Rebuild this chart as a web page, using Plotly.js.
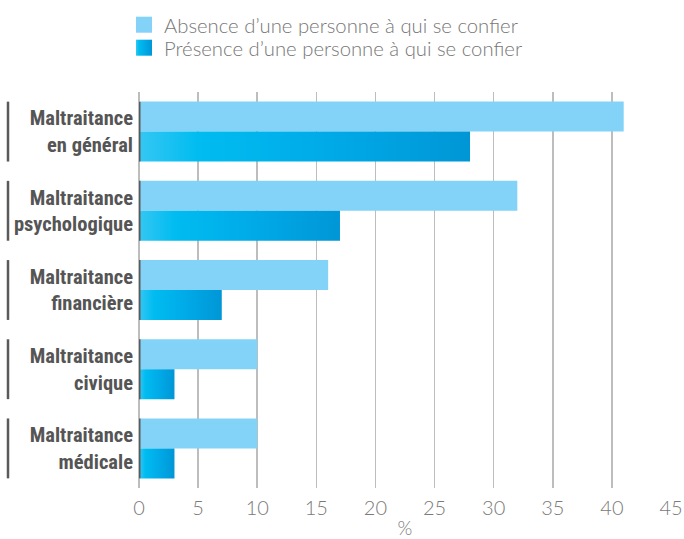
<!DOCTYPE html>
<html>
<head>
<meta charset="utf-8">
<script src="https://cdn.plot.ly/plotly-3.0.1.min.js"></script>
<style>
html,body{margin:0;padding:0;background:#fff;}
#chart{width:684px;height:539px;}
</style>
</head>
<body>
<div id="chart"></div>
<script>
// ---- data ----
var categories = [
  "Maltraitance<br>en général",
  "Maltraitance<br>psychologique",
  "Maltraitance<br>financière",
  "Maltraitance<br>civique",
  "Maltraitance<br>médicale"
];
var seriesNames = ["Absence d\u2019une personne à qui se confier", "Présence d\u2019une personne à qui se confier"];
var absenceValues = [41, 32, 16, 10, 10];
var presenceValues = [28, 17, 7, 3, 3];
var xTickValues = [0, 5, 10, 15, 20, 25, 30, 35, 40, 45];
var xAxisTitle = "%";

// ---- style ----
var lightBlue = "#82d3f7";
var darkBlue = "#00aee9";
var lightFont = {family:"Lato", weight:300};
var labelFont = {family:"Roboto Condensed, Roboto, DejaVu Sans Condensed, DejaVu Sans", size:20.5, color:"#555555", weight:"bold", stretch:"condensed"};

var traces = [
  {type:"bar", orientation:"h", name:seriesNames[0], y:categories, x:absenceValues,
   marker:{color:lightBlue, line:{width:0}}, hoverinfo:"skip", legend:"legend"},
  {type:"bar", orientation:"h", name:seriesNames[1], y:categories, x:presenceValues,
   marker:{color:darkBlue, line:{width:0}}, hoverinfo:"skip", legend:"legend2"}
];

var plotLeft = 139, plotWidth = 532;
var shapes = [];
categories.forEach(function(c, i){
  shapes.push({type:"line", xref:"x", yref:"y", x0:0, x1:0, y0:i-0.378, y1:i+0.378,
    line:{color:"#5a5a5a", width:3}, layer:"above"});
  shapes.push({type:"line", xref:"paper", yref:"y", x0:(8-plotLeft)/plotWidth, x1:(8-plotLeft)/plotWidth,
    y0:i-0.378, y1:i+0.378, line:{color:"#5a5a5a", width:2.5}});
});

function legendAt(yCenter){
  return {orientation:"v", xref:"container", yref:"container", x:124/684, y:1-yCenter/539,
    xanchor:"left", yanchor:"middle",
    font:{family:lightFont.family, weight:lightFont.weight, size:20.3, color:"#777777"},
    bgcolor:"rgba(0,0,0,0)"};
}

var layout = {
  width:684, height:539,
  margin:{l:plotLeft, r:684-plotLeft-plotWidth, t:91.5, b:539-488, autoexpand:false},
  paper_bgcolor:"#fff", plot_bgcolor:"#fff",
  barmode:"group", bargap:0.243, bargroupgap:0,
  showlegend:true,
  legend:legendAt(25),
  legend2:legendAt(48),
  xaxis:{range:[0,45], tickvals:xTickValues, showgrid:true, gridcolor:"#bdbdbd", gridwidth:1.5,
    zeroline:true, zerolinecolor:"#bdbdbd", zerolinewidth:1.5, showline:false, ticks:"",
    automargin:false, tickangle:0,
    tickfont:{family:lightFont.family, weight:lightFont.weight, size:20, color:"#7a7a7a"}, ticklabelstandoff:6,
    title:{text:xAxisTitle, font:{family:lightFont.family, weight:lightFont.weight, size:19, color:"#7a7a7a"}, standoff:9},
    fixedrange:true},
  yaxis:{type:"category", autorange:"reversed", showgrid:false, zeroline:false, showline:false, ticks:"",
    automargin:false,
    tickfont:labelFont, ticklabelstandoff:5, fixedrange:true},
  shapes:shapes
};

Plotly.newPlot("chart", traces, layout, {staticPlot:true, displayModeBar:false}).then(function(gd){
  var svg = gd.querySelector("svg.main-svg");
  var ns = "http://www.w3.org/2000/svg";
  var defs = svg.querySelector("defs");
  if(!defs){ defs = document.createElementNS(ns,"defs"); svg.insertBefore(defs, svg.firstChild); }
  var g = document.createElementNS(ns,"linearGradient");
  g.setAttribute("id","presGrad");
  g.setAttribute("x1","0"); g.setAttribute("x2","1"); g.setAttribute("y1","0"); g.setAttribute("y2","0");
  [["0","#35c7f3"],["0.18","#00bcf0"],["0.55","#00abe8"],["1","#0096d6"]].forEach(function(s){
    var st = document.createElementNS(ns,"stop");
    st.setAttribute("offset", s[0]); st.setAttribute("stop-color", s[1]);
    g.appendChild(st);
  });
  defs.appendChild(g);
  var barTraces = gd.querySelectorAll("g.trace.bars");
  if(barTraces[1]){
    barTraces[1].querySelectorAll("path").forEach(function(p){ p.style.fill = "url(#presGrad)"; });
  }
  gd.querySelectorAll(".legendpoints path").forEach(function(p){ p.setAttribute("d", "M8,8H-8V-8H8Z"); });
  gd.querySelectorAll("g.legend2 .legendpoints path").forEach(function(p){ p.style.fill = "url(#presGrad)"; });
});
</script>
</body>
</html>
